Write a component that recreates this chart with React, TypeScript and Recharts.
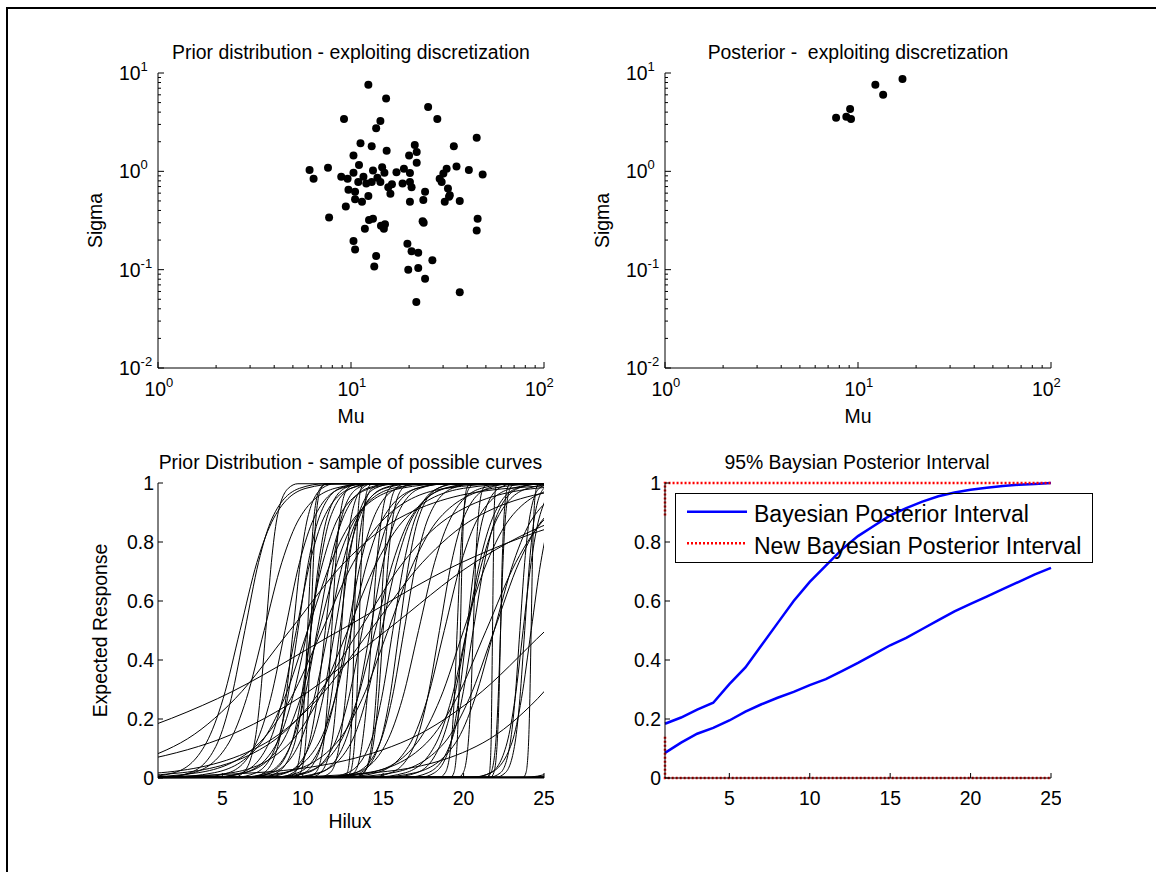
import React from 'react'
import { ScatterChart, Scatter, LineChart, Line, XAxis, YAxis, Legend } from 'recharts'

const FONT = '"Liberation Sans", Arial, Helvetica, sans-serif'
const FS = 19.4
const SUP = 13

// prior sample of (Mu, Sigma)
const priorMu = [
  12.3, 15.2, 25.1, 9.2, 14.2, 28, 13.5, 44.8, 11.2, 12.8, 21.4, 34.1, 15.3, 21.9, 10.3, 20, 21.9, 6.1, 7.6, 11.0,
  13.0, 14.5, 17.2, 18.8, 20.2, 31.3, 35.2, 40.8, 48.1, 6.4, 8.9, 9.6, 10.3, 10.9, 11.6, 12.0, 12.8, 13.7, 14.2, 14.9,
  15.6, 16.3, 16.0, 18.5, 20.2, 20.6, 28.8, 29.5, 30.1, 31.8, 32.5, 30.6, 32.2, 36.6, 9.7, 10.5, 10.5, 9.4, 11.4, 12.3,
  20.2, 24.2, 23.7, 7.7, 12.4, 13.0, 11.8, 14.3, 14.8, 15.0, 23.5, 23.8, 45.3, 44.8, 10.3, 10.5, 19.6, 20.6, 22.3, 13.5,
  13.2, 19.8, 22.3, 26.4, 24.2, 21.8, 36.6,
]
const priorSigma = [
  7.6, 5.5, 4.5, 3.4, 3.25, 3.4, 2.74, 2.2, 1.93, 1.8, 1.85, 1.8, 1.62, 1.57, 1.45, 1.45, 1.22, 1.03, 1.09, 1.16,
  1.02, 1.1, 0.98, 1.06, 0.96, 1.06, 1.12, 1.03, 0.93, 0.84, 0.88, 0.84, 0.97, 0.78, 0.88, 0.75, 0.78, 0.86, 0.78, 0.97,
  0.69, 0.74, 0.59, 0.75, 0.78, 0.69, 0.84, 0.78, 0.95, 0.67, 0.57, 0.49, 0.55, 0.5, 0.65, 0.62, 0.52, 0.44, 0.49, 0.56,
  0.49, 0.62, 0.51, 0.34, 0.32, 0.33, 0.26, 0.28, 0.26, 0.29, 0.31, 0.3, 0.33, 0.25, 0.196, 0.16, 0.184, 0.154, 0.149, 0.138,
  0.108, 0.1, 0.104, 0.125, 0.081, 0.047, 0.059,
]

// posterior sample
const postMu = [7.7, 8.7, 9.1, 9.2, 12.3, 13.5, 17.0]
const postSigma = [3.5, 3.6, 4.3, 3.4, 7.6, 6.0, 8.7]

const logXTicks = [1, 2, 3, 4, 5, 6, 7, 8, 9, 10, 20, 30, 40, 50, 60, 70, 80, 90, 100]
const logYTicks = [
  0.01, 0.02, 0.03, 0.04, 0.05, 0.06, 0.07, 0.08, 0.09, 0.1, 0.2, 0.3, 0.4, 0.5, 0.6, 0.7, 0.8, 0.9, 1, 2, 3, 4, 5, 6,
  7, 8, 9, 10,
]
const xDecades = [1, 10, 100]
const xDecadeExp = ['0', '1', '2']
const yDecades = [0.01, 0.1, 1, 10]
const yDecadeExp = ['-2', '-1', '0', '1']

const hiluxTicks = [5, 10, 15, 20, 25]
const hiluxLabels = ['5', '10', '15', '20', '25']
const responseTicks = [0, 0.2, 0.4, 0.6, 0.8, 1]
const responseLabels = ['0', '0.2', '0.4', '0.6', '0.8', '1']

// sampled prior curves: x where each curve reaches the response levels below
const curveLevels = [0, 0.0025, 0.018, 0.119, 0.269, 0.5, 0.731, 0.881, 0.982, 0.9975, 1]
const curveEnds = [-60, 90]
const curveX = [
  [-33.3, -18.1, -2.9, 4.7, 12.3, 19.9, 27.5, 42.7, 57.9],
  [-17.8, -6.8, 4.2, 9.7, 15.2, 20.7, 26.2, 37.2, 48.2],
  [-1.9, 7.1, 16.1, 20.6, 25.1, 29.6, 34.1, 43.1, 52.1],
  [-11.2, -4.4, 2.4, 5.8, 9.2, 12.6, 16.0, 22.8, 29.6],
  [-5.3, 1.2, 7.7, 10.95, 14.2, 17.45, 20.7, 27.2, 33.7],
  [7.6, 14.4, 21.2, 24.6, 28.0, 31.4, 34.8, 41.6, 48.4],
  [-2.9, 2.5, 8.0, 10.75, 13.5, 16.25, 19.0, 24.5, 29.9],
  [31.6, 36.0, 40.4, 42.6, 44.8, 47.0, 49.2, 53.6, 58.0],
  [-0.4, 3.5, 7.3, 9.25, 11.2, 13.15, 15.1, 18.9, 22.8],
  [2.0, 5.6, 9.2, 11.0, 12.8, 14.6, 16.4, 20.0, 23.6],
  [10.3, 14.0, 17.7, 19.55, 21.4, 23.25, 25.1, 28.8, 32.5],
  [23.3, 26.9, 30.5, 32.3, 34.1, 35.9, 37.7, 41.3, 44.9],
  [5.6, 8.8, 12.1, 13.7, 15.3, 16.9, 18.5, 21.8, 25.0],
  [12.5, 15.6, 18.8, 20.35, 21.9, 23.45, 25.0, 28.2, 31.3],
  [1.6, 4.5, 7.4, 8.85, 10.3, 11.75, 13.2, 16.1, 19.0],
  [11.3, 14.2, 17.1, 18.55, 20.0, 21.45, 22.9, 25.8, 28.7],
  [14.6, 17.0, 19.5, 20.7, 21.9, 23.1, 24.3, 26.8, 29.2],
  [-0.1, 2.0, 4.0, 5.05, 6.1, 7.15, 8.2, 10.2, 12.3],
  [1.1, 3.2, 5.4, 6.5, 7.6, 8.7, 9.8, 12.0, 14.1],
  [4.0, 6.4, 8.7, 9.85, 11.0, 12.15, 13.3, 15.6, 18.0],
  [6.9, 8.9, 11.0, 12.0, 13.0, 14.0, 15.0, 17.1, 19.1],
  [7.9, 10.1, 12.3, 13.4, 14.5, 15.6, 16.7, 18.9, 21.1],
  [11.3, 13.3, 15.2, 16.2, 17.2, 18.2, 19.2, 21.1, 23.1],
  [12.4, 14.6, 16.7, 17.75, 18.8, 19.85, 20.9, 23.0, 25.2],
  [14.4, 16.4, 18.3, 19.25, 20.2, 21.15, 22.1, 24.0, 26.0],
  [24.9, 27.1, 29.2, 30.25, 31.3, 32.35, 33.4, 35.5, 37.7],
  [34.6, 36.7, 38.7, 39.75, 40.8, 41.85, 42.9, 44.9, 47.0],
  [1.4, 3.0, 4.7, 5.55, 6.4, 7.25, 8.1, 9.8, 11.4],
  [3.6, 5.4, 7.1, 8.0, 8.9, 9.8, 10.7, 12.4, 14.2],
  [4.6, 6.2, 7.9, 8.75, 9.6, 10.45, 11.3, 13.0, 14.6],
  [4.5, 6.4, 8.4, 9.35, 10.3, 11.25, 12.2, 14.2, 16.1],
  [6.2, 7.8, 9.3, 10.1, 10.9, 11.7, 12.5, 14.0, 15.6],
  [6.3, 8.1, 9.8, 10.7, 11.6, 12.5, 13.4, 15.1, 16.9],
  [7.5, 9.0, 10.5, 11.25, 12.0, 12.75, 13.5, 15.0, 16.5],
  [8.1, 9.7, 11.2, 12.0, 12.8, 13.6, 14.4, 15.9, 17.5],
  [8.5, 10.3, 12.0, 12.85, 13.7, 14.55, 15.4, 17.1, 18.9],
  [9.5, 11.1, 12.6, 13.4, 14.2, 15.0, 15.8, 17.3, 18.9],
  [9.1, 11.0, 13.0, 13.95, 14.9, 15.85, 16.8, 18.8, 20.7],
  [11.5, 12.8, 14.2, 14.9, 15.6, 16.3, 17.0, 18.4, 19.7],
  [11.9, 13.3, 14.8, 15.55, 16.3, 17.05, 17.8, 19.3, 20.7],
  [12.5, 13.6, 14.8, 15.4, 16.0, 16.6, 17.2, 18.4, 19.5],
  [14.0, 15.5, 17.0, 17.75, 18.5, 19.25, 20.0, 21.5, 23.0],
  [15.5, 17.1, 18.6, 19.4, 20.2, 21.0, 21.8, 23.3, 24.9],
  [16.5, 17.8, 19.2, 19.9, 20.6, 21.3, 22.0, 23.4, 24.7],
  [23.8, 25.4, 27.1, 27.95, 28.8, 29.65, 30.5, 32.2, 33.8],
  [24.4, 26.3, 28.2, 29.15, 30.1, 31.05, 32.0, 33.9, 35.8],
  [5.8, 7.1, 8.4, 9.05, 9.7, 10.35, 11.0, 12.3, 13.6],
  [6.8, 8.0, 9.3, 9.9, 10.5, 11.1, 11.7, 13.0, 14.2],
  [7.4, 8.4, 9.5, 10.0, 10.5, 11.0, 11.5, 12.6, 13.6],
  [6.8, 7.6, 8.5, 8.95, 9.4, 9.85, 10.3, 11.2, 12.0],
  [8.5, 9.4, 10.4, 10.9, 11.4, 11.9, 12.4, 13.4, 14.3],
  [8.9, 10.1, 11.2, 11.75, 12.3, 12.85, 13.4, 14.5, 15.7],
  [17.3, 18.2, 19.2, 19.7, 20.2, 20.7, 21.2, 22.2, 23.1],
  [20.5, 21.7, 23.0, 23.6, 24.2, 24.8, 25.4, 26.7, 27.9],
  [20.6, 21.7, 22.7, 23.2, 23.7, 24.2, 24.7, 25.7, 26.8],
  [5.7, 6.3, 7.0, 7.35, 7.7, 8.05, 8.4, 9.1, 9.7],
  [10.5, 11.1, 11.8, 12.1, 12.4, 12.7, 13.0, 13.7, 14.3],
  [11.0, 11.7, 12.3, 12.65, 13.0, 13.35, 13.7, 14.3, 15.0],
  [10.2, 10.8, 11.3, 11.55, 11.8, 12.05, 12.3, 12.8, 13.4],
  [12.6, 13.2, 13.7, 14.0, 14.3, 14.6, 14.9, 15.4, 16.0],
  [13.2, 13.8, 14.3, 14.55, 14.8, 15.05, 15.3, 15.8, 16.4],
  [13.3, 13.8, 14.4, 14.7, 15.0, 15.3, 15.6, 16.2, 16.7],
  [21.6, 22.3, 22.9, 23.2, 23.5, 23.8, 24.1, 24.7, 25.4],
  [22.0, 22.6, 23.2, 23.5, 23.8, 24.1, 24.4, 25.0, 25.6],
  [9.12, 9.52, 9.91, 10.1, 10.3, 10.5, 10.69, 11.08, 11.48],
  [9.54, 9.86, 10.18, 10.34, 10.5, 10.66, 10.82, 11.14, 11.46],
  [18.5, 18.86, 19.23, 19.42, 19.6, 19.78, 19.97, 20.34, 20.7],
  [19.68, 19.98, 20.29, 20.45, 20.6, 20.75, 20.91, 21.22, 21.52],
  [21.41, 21.7, 22.0, 22.15, 22.3, 22.45, 22.6, 22.9, 23.19],
  [12.67, 12.95, 13.22, 13.36, 13.5, 13.64, 13.78, 14.05, 14.33],
  [12.55, 12.77, 12.98, 13.09, 13.2, 13.31, 13.42, 13.63, 13.85],
  [19.2, 19.4, 19.6, 19.7, 19.8, 19.9, 20.0, 20.2, 20.4],
  [21.68, 21.88, 22.09, 22.2, 22.3, 22.4, 22.51, 22.72, 22.92],
  [23.71, 23.88, 24.04, 24.12, 24.2, 24.28, 24.36, 24.52, 24.69],
  [21.52, 21.61, 21.71, 21.75, 21.8, 21.85, 21.89, 21.99, 22.08],
]

// 95% posterior interval
const intervalX = [1, 2, 3, 4, 5, 6, 7, 8, 9, 10, 11, 12, 13, 14, 15, 16, 17, 18, 19, 20, 21, 22, 23, 24, 25]
const intervalUpper = [
  0.184, 0.205, 0.232, 0.255, 0.318, 0.375, 0.45, 0.525, 0.6, 0.665, 0.72, 0.775, 0.82, 0.855, 0.89, 0.915, 0.937,
  0.955, 0.968, 0.977, 0.984, 0.99, 0.994, 0.997, 1.0,
]
const intervalLower = [
  0.085, 0.12, 0.15, 0.17, 0.195, 0.225, 0.25, 0.272, 0.292, 0.315, 0.335, 0.362, 0.39, 0.42, 0.45, 0.475, 0.505,
  0.535, 0.565, 0.59, 0.615, 0.64, 0.665, 0.69, 0.712,
]
const newUpperX = [1, 1, 25]
const newUpperY = [0.89, 1, 1]
const newLowerX = [1, 1, 25]
const newLowerY = [0.14, 0, 0]

const legendNames = ['Bayesian Posterior Interval', 'New Bayesian Posterior Interval']
const panelTitles = [
  'Prior distribution - exploiting discretization',
  'Posterior -  exploiting discretization',
  'Prior Distribution - sample of possible curves',
  '95% Baysian Posterior Interval',
]

const CHART_W = 466
const CHART_H = 365
const MARGIN = { top: 20, right: 10, bottom: 10, left: 10 }
const AXIS_LINE = { stroke: '#000', strokeWidth: 1 }

const same = (a: number, b: number) => Math.abs(a - b) <= Math.abs(b) * 1e-6 + 1e-9

const logXTick = (p: any) => {
  const i = xDecades.findIndex((d) => same(p.payload.value, d))
  const last = i === xDecades.length - 1
  return (
    <g>
      <line x1={p.x} y1={p.y} x2={p.x} y2={p.y - (i >= 0 ? 6 : 3)} stroke="#000" />
      {i >= 0 && (
        <text x={p.x + (last ? -19 : -13.5)} y={p.y + 27.5} fontSize={FS} fontFamily={FONT} fill="#000">
          10
          <tspan dy={-9} fontSize={SUP}>
            {xDecadeExp[i]}
          </tspan>
        </text>
      )}
    </g>
  )
}

const logYTick = (p: any) => {
  const i = yDecades.findIndex((d) => same(p.payload.value, d))
  return (
    <g>
      <line x1={p.x} y1={p.y} x2={p.x + (i >= 0 ? 6 : 3)} y2={p.y} stroke="#000" />
      {i >= 0 && (
        <text x={p.x - 39} y={p.y + 7} fontSize={FS} fontFamily={FONT} fill="#000">
          10
          <tspan dy={-9} fontSize={SUP}>
            {yDecadeExp[i]}
          </tspan>
        </text>
      )}
    </g>
  )
}

const edgeTick = (side: 'top' | 'right', majors: number[], minorLen: number) => (p: any) => {
  const len = majors.some((d) => same(p.payload.value, d)) ? 6 : minorLen
  return side === 'top' ? (
    <line x1={p.x} y1={p.y} x2={p.x} y2={p.y + len} stroke="#000" />
  ) : (
    <line x1={p.x} y1={p.y} x2={p.x - len} y2={p.y} stroke="#000" />
  )
}

const linXTick = (p: any) => {
  const i = hiluxTicks.findIndex((d) => same(p.payload.value, d))
  return (
    <g>
      <line x1={p.x} y1={p.y} x2={p.x} y2={p.y - 5} stroke="#000" />
      <text x={p.x} y={p.y + 27} textAnchor="middle" fontSize={FS} fontFamily={FONT} fill="#000">
        {hiluxLabels[i]}
      </text>
    </g>
  )
}

const linYTick = (p: any) => {
  const i = responseTicks.findIndex((d) => same(p.payload.value, d))
  return (
    <g>
      <line x1={p.x} y1={p.y} x2={p.x + 5} y2={p.y} stroke="#000" />
      <text x={p.x - 4} y={p.y + 7} textAnchor="end" fontSize={FS} fontFamily={FONT} fill="#000">
        {responseLabels[i]}
      </text>
    </g>
  )
}

const Dot = (p: any) => <circle cx={p.cx} cy={p.cy} r={4} fill="#000" />

function LogPanel({ left, top, mu, sigma }: { left: number; top: number; mu: number[]; sigma: number[] }) {
  const data = mu.map((m, i) => ({ mu: m, sigma: sigma[i] }))
  return (
    <div style={{ position: 'absolute', left, top }}>
      <ScatterChart width={CHART_W} height={CHART_H} margin={MARGIN}>
        <XAxis xAxisId="b" type="number" dataKey="mu" scale="log" domain={[1, 100]} ticks={logXTicks} interval={0}
          height={40} tickSize={0} tickMargin={0} tickLine={false} axisLine={AXIS_LINE} tick={logXTick} />
        <XAxis xAxisId="t" orientation="top" type="number" scale="log" domain={[1, 100]} ticks={logXTicks} interval={0}
          height={0} tickSize={0} tickMargin={0} tickLine={false} axisLine={AXIS_LINE} tick={edgeTick('top', xDecades, 3)} />
        <YAxis yAxisId="l" type="number" dataKey="sigma" scale="log" domain={[0.01, 10]} ticks={logYTicks} interval={0}
          width={60} tickSize={0} tickMargin={0} tickLine={false} axisLine={AXIS_LINE} tick={logYTick} />
        <YAxis yAxisId="r" orientation="right" type="number" scale="log" domain={[0.01, 10]} ticks={logYTicks} interval={0}
          width={0} tickSize={0} tickMargin={0} tickLine={false} axisLine={AXIS_LINE} tick={edgeTick('right', yDecades, 3)} />
        <Scatter xAxisId="b" yAxisId="l" data={data} shape={Dot} isAnimationActive={false} />
      </ScatterChart>
    </div>
  )
}

function linearAxes(overflow: boolean) {
  return [
    <XAxis key="xb" xAxisId="b" type="number" dataKey="x" domain={[1, 25]} allowDataOverflow={overflow} ticks={hiluxTicks}
      interval={0} height={40} tickSize={0} tickMargin={0} tickLine={false} axisLine={AXIS_LINE} tick={linXTick} />,
    <XAxis key="xt" xAxisId="t" orientation="top" type="number" domain={[1, 25]} ticks={hiluxTicks} interval={0}
      height={0} tickSize={0} tickMargin={0} tickLine={false} axisLine={AXIS_LINE} tick={edgeTick('top', hiluxTicks, 5)} />,
    <YAxis key="yl" yAxisId="l" type="number" domain={[0, 1]} ticks={responseTicks} interval={0} width={60}
      tickSize={0} tickMargin={0} tickLine={false} axisLine={AXIS_LINE} tick={linYTick} />,
    <YAxis key="yr" yAxisId="r" orientation="right" type="number" domain={[0, 1]} ticks={responseTicks} interval={0}
      width={0} tickSize={0} tickMargin={0} tickLine={false} axisLine={AXIS_LINE} tick={edgeTick('right', responseTicks, 5)} />,
  ]
}

function CurvesPanel({ left, top }: { left: number; top: number }) {
  const curves = curveX.map((row) =>
    [curveEnds[0], ...row, curveEnds[1]].map((x, i) => ({ x, y: curveLevels[i] })),
  )
  return (
    <div style={{ position: 'absolute', left, top }}>
      <LineChart width={CHART_W} height={CHART_H} margin={MARGIN}>
        {linearAxes(true)}
        {curves.map((d, i) => (
          <Line key={i} xAxisId="b" yAxisId="l" data={d} dataKey="y" type="monotone" stroke="#000"
            strokeWidth={1} dot={false} isAnimationActive={false} />
        ))}
      </LineChart>
    </div>
  )
}

function IntervalLegend() {
  return (
    <svg width={418} height={70} style={{ display: 'block' }}>
      <rect x={0.5} y={0.5} width={417} height={69} fill="none" stroke="#000" />
      <line x1={12} y1={18.7} x2={72} y2={18.7} stroke="#0000ff" strokeWidth={2.5} />
      <line x1={12} y1={50.3} x2={72} y2={50.3} stroke="#ff0000" strokeWidth={2.5} strokeDasharray="2 2" />
      <text x={79} y={28.7} fontSize={23} fontFamily={FONT} fill="#000">{legendNames[0]}</text>
      <text x={79} y={61.3} fontSize={23} fontFamily={FONT} fill="#000">{legendNames[1]}</text>
    </svg>
  )
}

function IntervalPanel({ left, top }: { left: number; top: number }) {
  const upper = intervalX.map((x, i) => ({ x, y: intervalUpper[i] }))
  const lower = intervalX.map((x, i) => ({ x, y: intervalLower[i] }))
  const newUpper = newUpperX.map((x, i) => ({ x, y: newUpperY[i] }))
  const newLower = newLowerX.map((x, i) => ({ x, y: newLowerY[i] }))
  return (
    <div style={{ position: 'absolute', left, top }}>
      <LineChart width={CHART_W} height={CHART_H} margin={MARGIN}>
        {linearAxes(false)}
        <Line xAxisId="b" yAxisId="l" data={upper} dataKey="y" type="linear" stroke="#0000ff" strokeWidth={2.5}
          dot={false} isAnimationActive={false} />
        <Line xAxisId="b" yAxisId="l" data={lower} dataKey="y" type="linear" stroke="#0000ff" strokeWidth={2.5}
          dot={false} isAnimationActive={false} />
        <Line xAxisId="b" yAxisId="l" data={newUpper} dataKey="y" type="linear" stroke="#ff0000" strokeWidth={2.5}
          strokeDasharray="2 2" dot={false} isAnimationActive={false} />
        <Line xAxisId="b" yAxisId="l" data={newLower} dataKey="y" type="linear" stroke="#ff0000" strokeWidth={2.5}
          strokeDasharray="2 2" dot={false} isAnimationActive={false} />
        <Legend layout="horizontal" verticalAlign="middle" align="center"
          wrapperStyle={{ left: 80, top: 30, width: 418, height: 70 }} content={() => <IntervalLegend />} />
      </LineChart>
    </div>
  )
}

export default function App() {
  return (
    <div style={{ position: 'absolute', left: 0, top: 0, width: 1156, height: 872, background: '#fff', overflow: 'hidden' }}>
      <div style={{ position: 'absolute', left: 6, top: 7, width: 1200, height: 900, borderTop: '2px solid #000', borderLeft: '2px solid #000' }} />
      <LogPanel left={88} top={53} mu={priorMu} sigma={priorSigma} />
      <LogPanel left={595} top={53} mu={postMu} sigma={postSigma} />
      <CurvesPanel left={88} top={463} />
      <IntervalPanel left={595} top={463} />
      <svg width={1156} height={872} style={{ position: 'absolute', left: 0, top: 0, pointerEvents: 'none' }}
        fontFamily={FONT} fontSize={FS} fill="#000">
        <text x={351} y={59} textAnchor="middle">{panelTitles[0]}</text>
        <text x={858} y={59} textAnchor="middle" style={{ whiteSpace: 'pre' }}>{panelTitles[1]}</text>
        <text x={350.5} y={469} textAnchor="middle">{panelTitles[2]}</text>
        <text x={857} y={469} textAnchor="middle">{panelTitles[3]}</text>
        <text x={351} y={423} textAnchor="middle">Mu</text>
        <text x={858} y={423} textAnchor="middle">Mu</text>
        <text x={350} y={828} textAnchor="middle">Hilux</text>
        <text x={102} y={220.5} textAnchor="middle" transform="rotate(-90 102 220.5)">Sigma</text>
        <text x={609} y={220.5} textAnchor="middle" transform="rotate(-90 609 220.5)">Sigma</text>
        <text x={107} y={630.5} textAnchor="middle" transform="rotate(-90 107 630.5)">Expected Response</text>
      </svg>
    </div>
  )
}
